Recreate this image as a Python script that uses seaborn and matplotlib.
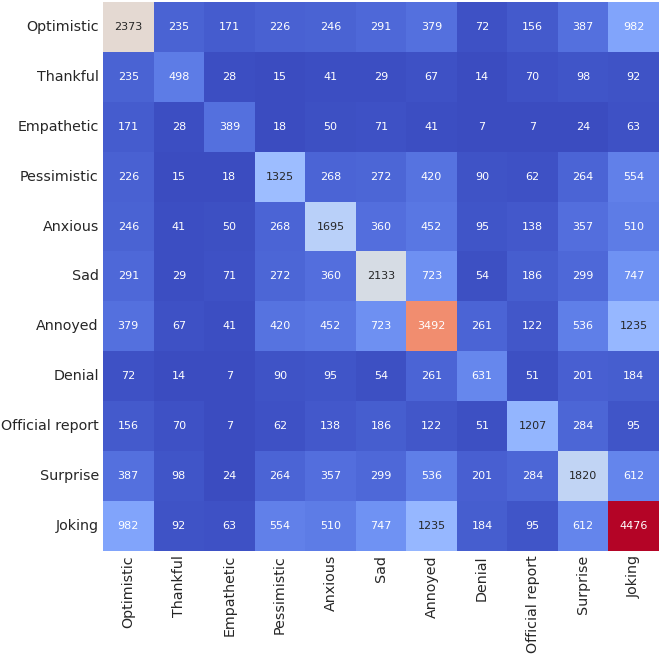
import numpy as np
import pandas as pd
import matplotlib.pyplot as plt
import seaborn as sns

# --- Data ---
labels = ["Optimistic", "Thankful", "Empathetic", "Pessimistic", "Anxious", "Sad",
          "Annoyed", "Denial", "Official report", "Surprise", "Joking"]

row_optimistic = [2373, 235, 171, 226, 246, 291, 379, 72, 156, 387, 982]
row_thankful = [235, 498, 28, 15, 41, 29, 67, 14, 70, 98, 92]
row_empathetic = [171, 28, 389, 18, 50, 71, 41, 7, 7, 24, 63]
row_pessimistic = [226, 15, 18, 1325, 268, 272, 420, 90, 62, 264, 554]
row_anxious = [246, 41, 50, 268, 1695, 360, 452, 95, 138, 357, 510]
row_sad = [291, 29, 71, 272, 360, 2133, 723, 54, 186, 299, 747]
row_annoyed = [379, 67, 41, 420, 452, 723, 3492, 261, 122, 536, 1235]
row_denial = [72, 14, 7, 90, 95, 54, 261, 631, 51, 201, 184]
row_official = [156, 70, 7, 62, 138, 186, 122, 51, 1207, 284, 95]
row_surprise = [387, 98, 24, 264, 357, 299, 536, 201, 284, 1820, 612]
row_joking = [982, 92, 63, 554, 510, 747, 1235, 184, 95, 612, 4476]

matrix = pd.DataFrame(
    [row_optimistic, row_thankful, row_empathetic, row_pessimistic, row_anxious,
     row_sad, row_annoyed, row_denial, row_official, row_surprise, row_joking],
    index=labels, columns=labels,
)

# --- Plotting ---
sns.set_theme(style="white")
plt.rcParams["font.family"] = ["DejaVu Sans"]
fig, ax = plt.subplots(figsize=(6.69, 6.55), dpi=100)
fig.subplots_adjust(left=0.154, right=0.985, top=0.997, bottom=0.159)

sns.heatmap(matrix, annot=True, fmt="d", cmap="coolwarm", cbar=False,
            annot_kws={"fontsize": 8}, ax=ax)

ax.tick_params(axis="both", length=0, labelsize=10.3, colors="#262626", pad=3)
ax.set_xticklabels(labels, rotation=90)
ax.set_yticklabels(labels, rotation=0)
ax.set_xlabel("")
ax.set_ylabel("")

plt.savefig("out.png", dpi=100)
